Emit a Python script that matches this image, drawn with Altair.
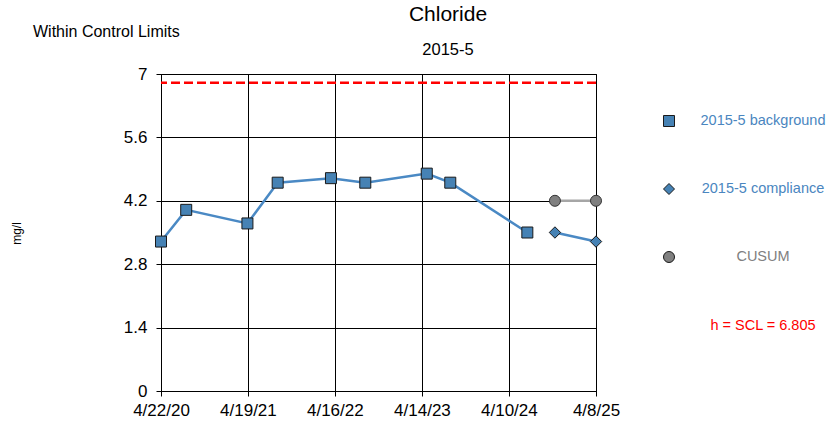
import altair as alt
import pandas as pd

# Chloride monitoring, well 2015-5 (mg/l)
bg_dates = ["2020-04-22", "2020-08-05", "2021-04-17", "2021-08-21", "2022-03-31",
            "2022-08-21", "2023-05-04", "2023-08-10", "2024-06-26"]
bg_values = [3.3, 4.0, 3.7, 4.6, 4.7, 4.6, 4.8, 4.6, 3.5]

comp_dates = ["2024-10-19", "2025-04-08"]
comp_values = [3.5, 3.3]

cusum_dates = ["2024-10-19", "2025-04-08"]
cusum_values = [4.2, 4.2]

scl = 6.805

x_ticks = ["2020-04-22", "2021-04-19", "2022-04-16", "2023-04-14", "2024-04-10", "2025-04-08"]
y_ticks = [0, 1.4, 2.8, 4.2, 5.6, 7]

FONT = "Liberation Sans"
BLUE = "#4682b4"
LINE_BLUE = "#4a89c4"
LABEL_BLUE = "#4a86c0"


def ms(s):
    return int(pd.Timestamp(s, tz="UTC").timestamp() * 1000)


bg = pd.DataFrame({"date": bg_dates, "value": bg_values})
comp = pd.DataFrame({"date": comp_dates, "value": comp_values})
cusum = pd.DataFrame({"date": cusum_dates, "value": cusum_values})
one = pd.DataFrame({"k": [0]})

x_enc = alt.X(
    "date:T",
    scale=alt.Scale(type="utc", domain=[ms(x_ticks[0]), ms(x_ticks[-1])]),
    axis=alt.Axis(
        values=[ms(t) for t in x_ticks],
        format="%-m/%-d/%y",
        title=None,
        grid=True,
        gridColor="black",
        gridOpacity=1,
        domainColor="black",
        tickColor="black",
        tickSize=5,
        labelFont=FONT,
        labelFontSize=17,
        labelColor="black",
        labelPadding=6,
        labelFlush=False,
        labelOverlap=False,
    ),
)
y_enc = alt.Y(
    "value:Q",
    scale=alt.Scale(domain=[0, 7], nice=False),
    axis=alt.Axis(
        values=y_ticks,
        format=".1~f",
        title="mg/l",
        titleFont=FONT,
        titleFontSize=12,
        titleFontWeight="normal",
        titleColor="black",
        titleAngle=-90,
        titleX=-145,
        titleY=159,
        titleAlign="center",
        titleBaseline="middle",
        grid=True,
        gridColor="black",
        gridOpacity=1,
        domainColor="black",
        tickColor="black",
        tickSize=5,
        labelFont=FONT,
        labelFontSize=17,
        labelColor="black",
        labelPadding=9,
    ),
)

scl_rule = alt.Chart(pd.DataFrame({"value": [scl]})).mark_rule(
    color="#ff0000", strokeDash=[9, 4], strokeWidth=2.5
).encode(y=y_enc)

bg_line = alt.Chart(bg).mark_line(color=LINE_BLUE, strokeWidth=2.5).encode(x=x_enc, y=y_enc)
bg_pts = alt.Chart(bg).mark_point(
    shape="square", filled=True, size=121, fill=BLUE, stroke="#1a1a1a", strokeWidth=1, opacity=1
).encode(x=x_enc, y=y_enc)

comp_line = alt.Chart(comp).mark_line(color=LINE_BLUE, strokeWidth=2.5).encode(x=x_enc, y=y_enc)
comp_pts = alt.Chart(comp).mark_point(
    shape="diamond", filled=True, size=130, fill=BLUE, stroke="#1a1a1a", strokeWidth=1, opacity=1
).encode(x=x_enc, y=y_enc)

cusum_line = alt.Chart(cusum).mark_line(color="#a6a6a6", strokeWidth=2.5).encode(x=x_enc, y=y_enc)
cusum_pts = alt.Chart(cusum).mark_point(
    shape="circle", filled=True, size=121, fill="#808080", stroke="#333333", strokeWidth=1, opacity=1
).encode(x=x_enc, y=y_enc)


def text(label, x, y, size, color="black", align="center", baseline="alphabetic"):
    return alt.Chart(one).mark_text(
        text=label, font=FONT, fontSize=size, color=color, align=align, baseline=baseline
    ).encode(x=alt.value(x), y=alt.value(y))


def symbol(shape, fill, y):
    return alt.Chart(one).mark_point(
        shape=shape, filled=True, size=121, fill=fill, stroke="#1a1a1a", strokeWidth=1, opacity=1
    ).encode(x=alt.value(508), y=alt.value(y))


annotations = [
    text("Chloride", 287, -53, 21),
    text("2015-5", 287, -19, 16.5),
    text("Within Control Limits", -128, -37, 16, align="left"),
    symbol("square", BLUE, 47),
    text("2015-5 background", 602, 47, 14.5, color=LABEL_BLUE, baseline="middle"),
    symbol("diamond", BLUE, 115),
    text("2015-5 compliance", 602, 115, 14.5, color=LABEL_BLUE, baseline="middle"),
    symbol("circle", "#808080", 183),
    text("CUSUM", 602, 183, 14.5, color="#808080", baseline="middle"),
    text(f"h = SCL = {scl}", 602, 252, 14.5, color="#ff0000", baseline="middle"),
]

chart = alt.layer(
    scl_rule, cusum_line, bg_line, comp_line, cusum_pts, bg_pts, comp_pts, *annotations
).properties(
    width=435,
    height=317,
    autosize=alt.AutoSizeParams(type="none"),
    padding={"left": 161, "top": 74, "right": 234, "bottom": 35},
    background="white",
).configure_view(stroke="black", strokeWidth=1)

chart.save("out.html", embed_options={"renderer": "svg", "actions": False})
